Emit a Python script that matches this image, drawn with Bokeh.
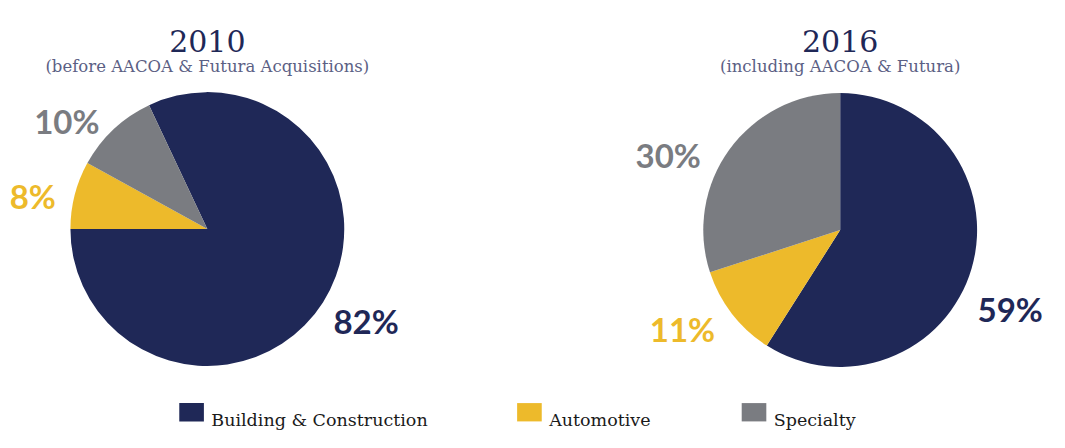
import math
from bokeh.plotting import figure
from bokeh.models import Range1d, ColumnDataSource
from bokeh.core.properties import value
from bokeh.embed import file_html
from bokeh.resources import INLINE

# ---- data ----
categories = ["Building & Construction", "Automotive", "Specialty"]
colors = ["#1f2857", "#edba2b", "#7a7c81"]
shares_2010 = [82, 8, 10]
shares_2016 = [59, 11, 30]
titles = ["2010", "2016"]
subtitles = ["(before AACOA & Futura Acquisitions)", "(including AACOA & Futura)"]

# ---- layout: data space = reference frame (1065 x 448 px, y from top) ----
W, H = 1065, 448
M = 8
def Y(sy):
    return H - sy

p = figure(width=W - 2 * M, height=H - 2 * M, output_backend="svg", toolbar_location=None,
           x_range=Range1d(0, W), y_range=Range1d(0, H), min_border=0)
p.axis.visible = False
p.grid.visible = False
p.outline_line_color = None
p.background_fill_color = "white"

pies = [
    dict(shares=shares_2010, cx=210, cy=237, r=139, start=180 + 3.6 * shares_2010[0],
         nudges=[(5, -4), (2, 12), (-16, 23)]),
    dict(shares=shares_2016, cx=852.5, cy=238, r=139, start=90,
         nudges=[(-5, 30), (-14, -11), (-25, 31)]),
]

for i, pie in enumerate(pies):
    vals = pie["shares"]
    total = float(sum(vals))
    starts, ends, lx, ly, labels = [], [], [], [], []
    a = math.radians(pie["start"])
    for v, (nx, ny) in zip(vals, pie["nudges"]):
        span = 2 * math.pi * v / total
        starts.append(a)
        ends.append(a - span)
        mid = a - span / 2
        lx.append(pie["cx"] + 185 * math.cos(mid) + nx)
        ly.append(Y(pie["cy"]) + 185 * math.sin(mid) - ny)
        labels.append(f"{v}%")
        a -= span
    src = ColumnDataSource(dict(start=starts, end=ends, color=colors, lx=lx, ly=ly, label=labels))
    p.wedge(x=pie["cx"], y=Y(pie["cy"]), radius=pie["r"], start_angle="start", end_angle="end",
            direction="clock", fill_color="color", line_color=None, source=src)
    p.text(x="lx", y="ly", text="label", text_color="color", source=src,
           text_font=value("Lato"), text_font_size="33px", text_font_style="bold",
           text_align="center", text_baseline="middle")
    p.text(x=[pie["cx"]], y=[Y(42)], text=[titles[i]], text_color="#1f2857",
           text_font=value("DejaVu Serif"), text_font_size="30px", text_align="center",
           text_baseline="alphabetic")
    p.text(x=[pie["cx"]], y=[Y(68)], text=[subtitles[i]], text_color="#5b6084",
           text_font=value("DejaVu Serif"), text_font_size="16.5px", text_align="center",
           text_baseline="alphabetic")

# legend
leg_x = [194, 537, 765]
leg = ColumnDataSource(dict(x=leg_x, y=[Y(427)] * 3, tx=[v + 20 for v in leg_x],
                            ty=[Y(435)] * 3, name=categories, color=colors))
p.rect(x="x", y="y", width=25, height=19, fill_color="color", line_color=None, source=leg)
p.text(x="tx", y="ty", text="name", source=leg, text_color="#1a1a1a",
       text_font=value("DejaVu Serif"), text_font_size="17.5px", text_align="left",
       text_baseline="alphabetic")

open("out.html", "w").write(file_html(p, INLINE))
